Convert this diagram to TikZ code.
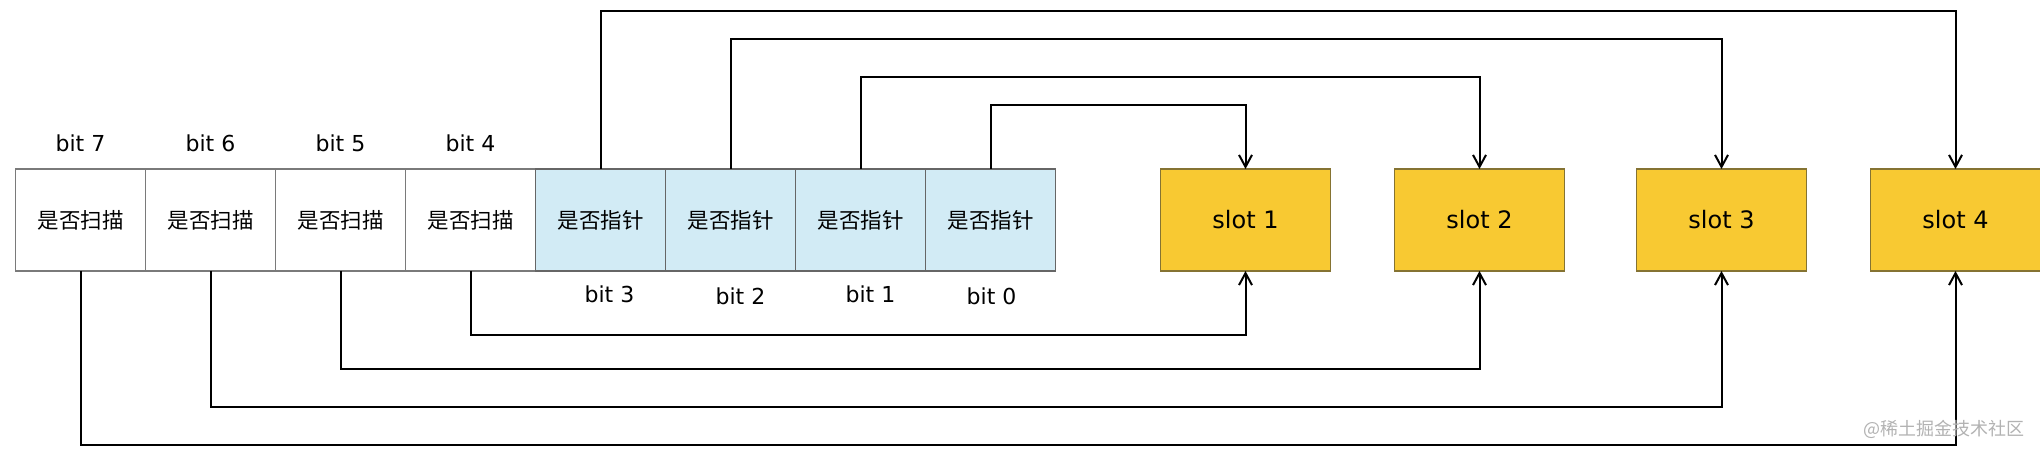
\documentclass[tikz,border=0pt]{standalone}
\usepackage{fontspec}
\setmainfont{DejaVu Sans}
\newfontfamily\cjk{Noto Sans CJK SC}
\usetikzlibrary{arrows.meta, positioning}
\definecolor{cellline}{HTML}{7A7A7A}
\definecolor{ptrfill}{HTML}{D2EBF5}
\definecolor{slotfill}{HTML}{F8C932}
\definecolor{slotline}{HTML}{857332}

\begin{document}
\begin{tikzpicture}[
      x=1pt, y=-1pt,
      node distance=0pt and 0pt,
      cell/.style={draw=cellline, line width=1.5pt, minimum width=130pt,
                   minimum height=102pt, inner sep=0pt, outer sep=0pt,
                   font=\cjk\fontsize{21.5}{24}\selectfont},
      ptr/.style={cell, fill=ptrfill, draw=black!60},
      slot/.style={draw=slotline, fill=slotfill, line width=1.5pt,
                   minimum width=170pt, minimum height=102pt, inner sep=0pt,
                   outer sep=0pt, font=\fontsize{24}{28}\selectfont},
      bitlbl/.style={font=\fontsize{22}{26}\selectfont, inner sep=0pt},
      link/.style={->, line width=2pt},
      >={Straight Barb[length=12pt, width=13pt]}]
    \useasboundingbox (0,0) rectangle (2040,454);
    % the byte: four scan bits, four pointer bits
    \node[cell] (b7) at (80.5,220) {是否扫描};
    \node[cell, right=of b7] (b6) {是否扫描};
    \node[cell, right=of b6] (b5) {是否扫描};
    \node[cell, right=of b5] (b4) {是否扫描};
    \node[ptr, right=of b4] (b3) {是否指针};
    \node[ptr, right=of b3] (b2) {是否指针};
    \node[ptr, right=of b2] (b1) {是否指针};
    \node[ptr, right=of b1] (b0) {是否指针};
    \node[bitlbl, above=17pt of b7] (l7) {bit 7};
    \node[bitlbl, above=17pt of b6] (l6) {bit 6};
    \node[bitlbl, above=17pt of b5] (l5) {bit 5};
    \node[bitlbl, above=17pt of b4] (l4) {bit 4};
    \node[bitlbl, below=15pt of b3, xshift=9pt] (l3) {bit 3};
    \node[bitlbl, below=17pt of b2, xshift=10pt] (l2) {bit 2};
    \node[bitlbl, below=15pt of b1, xshift=10pt] (l1) {bit 1};
    \node[bitlbl, below=17pt of b0, xshift=1pt] (l0) {bit 0};
    % slots
    \node[slot, right=105pt of b0] (s1) {slot 1};
    \node[slot, right=64pt of s1] (s2) {slot 2};
    \node[slot, right=72pt of s2] (s3) {slot 3};
    \node[slot, right=64pt of s3] (s4) {slot 4};
    \draw[link] (b3.north) -- ++(0,-158) -| (s4.north);
    \draw[link] (b2.north) -- ++(0,-130) -| (s3.north);
    \draw[link] (b1.north) -- ++(0,-92) -| (s2.north);
    \draw[link] (b0.north) -- ++(0,-64) -| (s1.north);
    \draw[link] (b4.south) -- ++(0,64) -| (s1.south);
    \draw[link] (b5.south) -- ++(0,98) -| (s2.south);
    \draw[link] (b6.south) -- ++(0,136) -| (s3.south);
    \draw[link] (b7.south) -- ++(0,174) -| (s4.south);
    \node[font=\cjk\fontsize{18}{20}\selectfont, text=black!30] (mark)
      at (1944,429) {@稀土掘金技术社区};
  \end{tikzpicture}
\end{document}
